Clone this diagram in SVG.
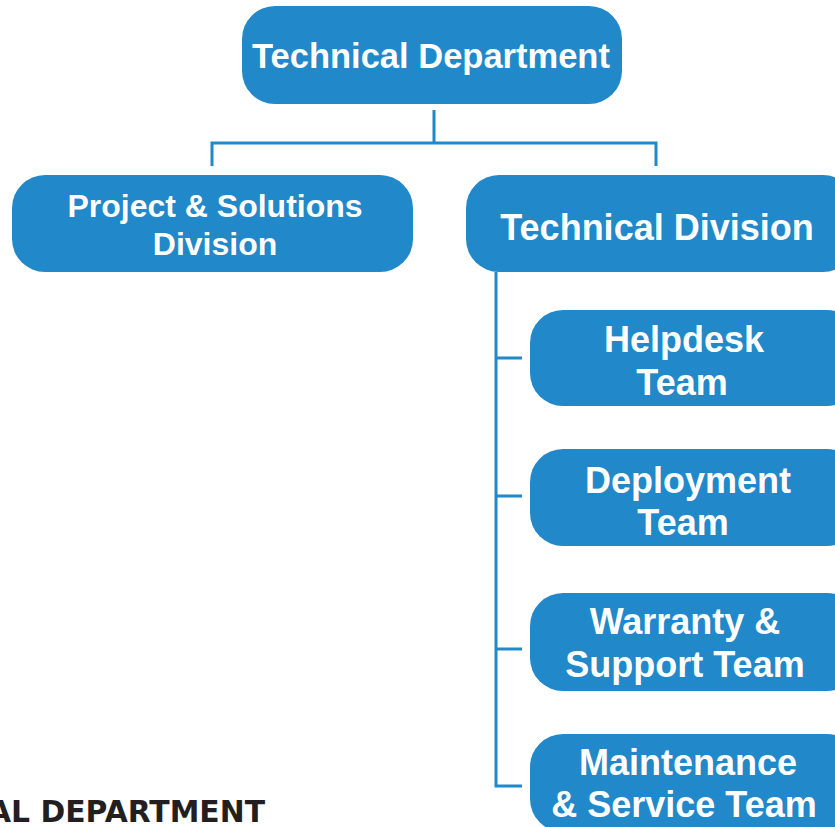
<svg xmlns="http://www.w3.org/2000/svg" width="835" height="827" viewBox="0 0 835 827">
<style>
.node{fill:#2188c9;}
.lbl{font-family:"Liberation Sans",Arial,sans-serif;font-weight:bold;fill:#ffffff;text-anchor:middle;}
.conn{stroke:#2188c9;stroke-width:3;fill:none;}
.foot{font-family:"DejaVu Sans","Open Sans",sans-serif;font-weight:bold;fill:#231f20;}
</style>
<rect width="835" height="827" fill="#ffffff"/>
<g id="connectors">
<path class="conn" d="M434,110 V143 M212,143 H657 M212,141.5 V166 M656,141.5 V166"/>
<path class="conn" d="M496,272 V786 M494.5,358 H522 M494.5,496 H522 M494.5,649 H522 M494.5,786 H522"/>
</g>
<g id="technical-department">
<rect class="node" x="242" y="6" width="380" height="98" rx="33"/>
<text class="lbl" x="431" y="68" font-size="34.5">Technical Department</text>
</g>
<g id="project-solutions-division">
<rect class="node" x="12" y="175" width="401" height="97" rx="33"/>
<text class="lbl" x="215" y="217" font-size="32">Project &amp; Solutions</text>
<text class="lbl" x="215" y="255" font-size="32">Division</text>
</g>
<g id="technical-division">
<rect class="node" x="466" y="175" width="390" height="97" rx="33"/>
<text class="lbl" x="657" y="240" font-size="36">Technical Division</text>
</g>
<g id="helpdesk-team">
<rect class="node" x="530" y="310" width="330" height="96" rx="33"/>
<text class="lbl" x="684" y="352" font-size="36">Helpdesk</text>
<text class="lbl" x="682" y="395" font-size="36">Team</text>
</g>
<g id="deployment-team">
<rect class="node" x="530" y="449" width="330" height="97" rx="33"/>
<text class="lbl" x="688" y="493" font-size="36">Deployment</text>
<text class="lbl" x="683" y="535" font-size="36">Team</text>
</g>
<g id="warranty-support-team">
<rect class="node" x="530" y="593" width="330" height="98" rx="33"/>
<text class="lbl" x="685" y="634" font-size="36">Warranty &amp;</text>
<text class="lbl" x="685" y="677" font-size="36">Support Team</text>
</g>
<g id="maintenance-service-team">
<rect class="node" x="530" y="734" width="330" height="98" rx="33"/>
<text class="lbl" x="688" y="775" font-size="36">Maintenance</text>
<text class="lbl" x="684" y="817" font-size="36">&amp; Service Team</text>
</g>
<text class="foot" x="-12" y="822" font-size="31" textLength="277" lengthAdjust="spacingAndGlyphs">AL DEPARTMENT</text>
</svg>
